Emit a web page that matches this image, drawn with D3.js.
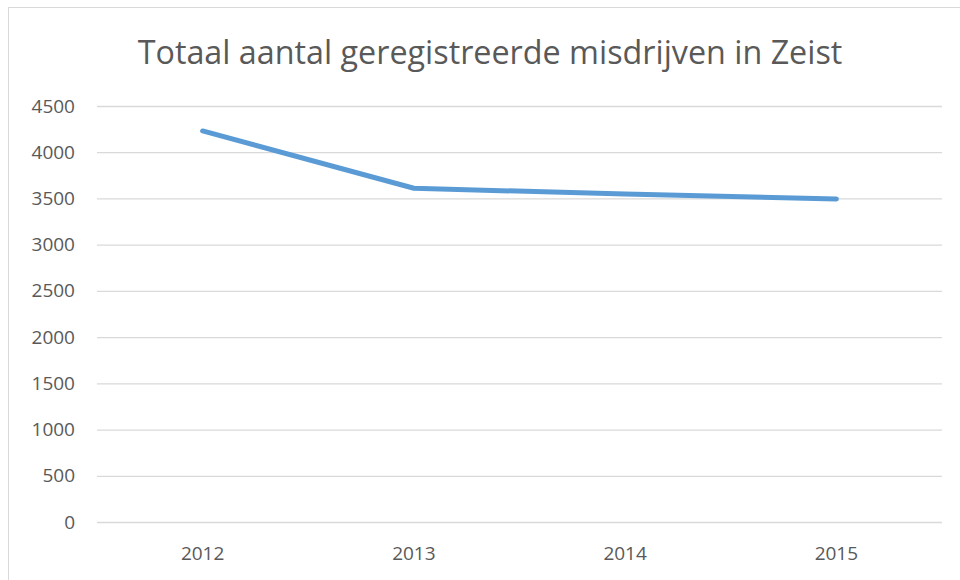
<!DOCTYPE html>
<html><head><meta charset="utf-8">
<script src="https://cdn.jsdelivr.net/npm/d3@7"></script>
<style>body{margin:0;background:#fff;} svg{display:block;}</style>
</head><body>
<svg id="c" width="960" height="580"></svg>
<script>
const title = "Totaal aantal geregistreerde misdrijven in Zeist";
const years = ["2012", "2013", "2014", "2015"];
const misdrijven = [4230, 3610, 3548, 3495];
const yTicks = [0, 500, 1000, 1500, 2000, 2500, 3000, 3500, 4000, 4500];

(function () {
const svg = d3.select("#c");
const font = "'Open Sans', 'Noto Sans', sans-serif";
const grey = "#595959";

svg.append("rect").attr("x", 8.5).attr("y", 7.5).attr("width", 960).attr("height", 580)
  .attr("fill", "#fff").attr("stroke", "#d9d9d9");

const pl = 97, pr = 942, pt = 106, pb = 522;
const x = d3.scaleBand().domain(years).range([pl, pr]);
const y = d3.scaleLinear().domain([0, 4500]).range([pb, pt]);

const t = svg.append("text").attr("x", 490).attr("y", 64).attr("text-anchor", "middle")
  .attr("font-family", font).attr("font-size", 33).attr("fill", grey).text(title);
const w = t.node().getComputedTextLength();
t.attr("font-size", 33 * 705 / w);

const yAxis = d3.axisLeft(y).tickValues(yTicks).tickSize(-(pr - pl)).tickPadding(22).tickFormat(d3.format("d"));
const gy = svg.append("g").attr("transform", `translate(${pl},0)`).call(yAxis);
gy.select(".domain").remove();
gy.selectAll(".tick line").attr("stroke", "#d9d9d9").attr("stroke-width", 1.3);
gy.selectAll(".tick text").attr("font-family", font).attr("font-size", 19).attr("fill", grey);

const xAxis = d3.axisBottom(x).tickSize(0).tickPadding(25);
const gx = svg.append("g").attr("transform", `translate(0,${pb})`).call(xAxis);
gx.select(".domain").remove();
gx.selectAll(".tick text").attr("font-family", font).attr("font-size", 19).attr("fill", grey);

const line = d3.line().x((d, i) => x(years[i]) + x.bandwidth() / 2).y(d => y(d));
svg.append("path").datum(misdrijven).attr("d", line).attr("fill", "none")
  .attr("stroke", "#5b9bd5").attr("stroke-width", 5).attr("stroke-linecap", "round").attr("stroke-linejoin", "round");
})();
</script>
</body></html>
